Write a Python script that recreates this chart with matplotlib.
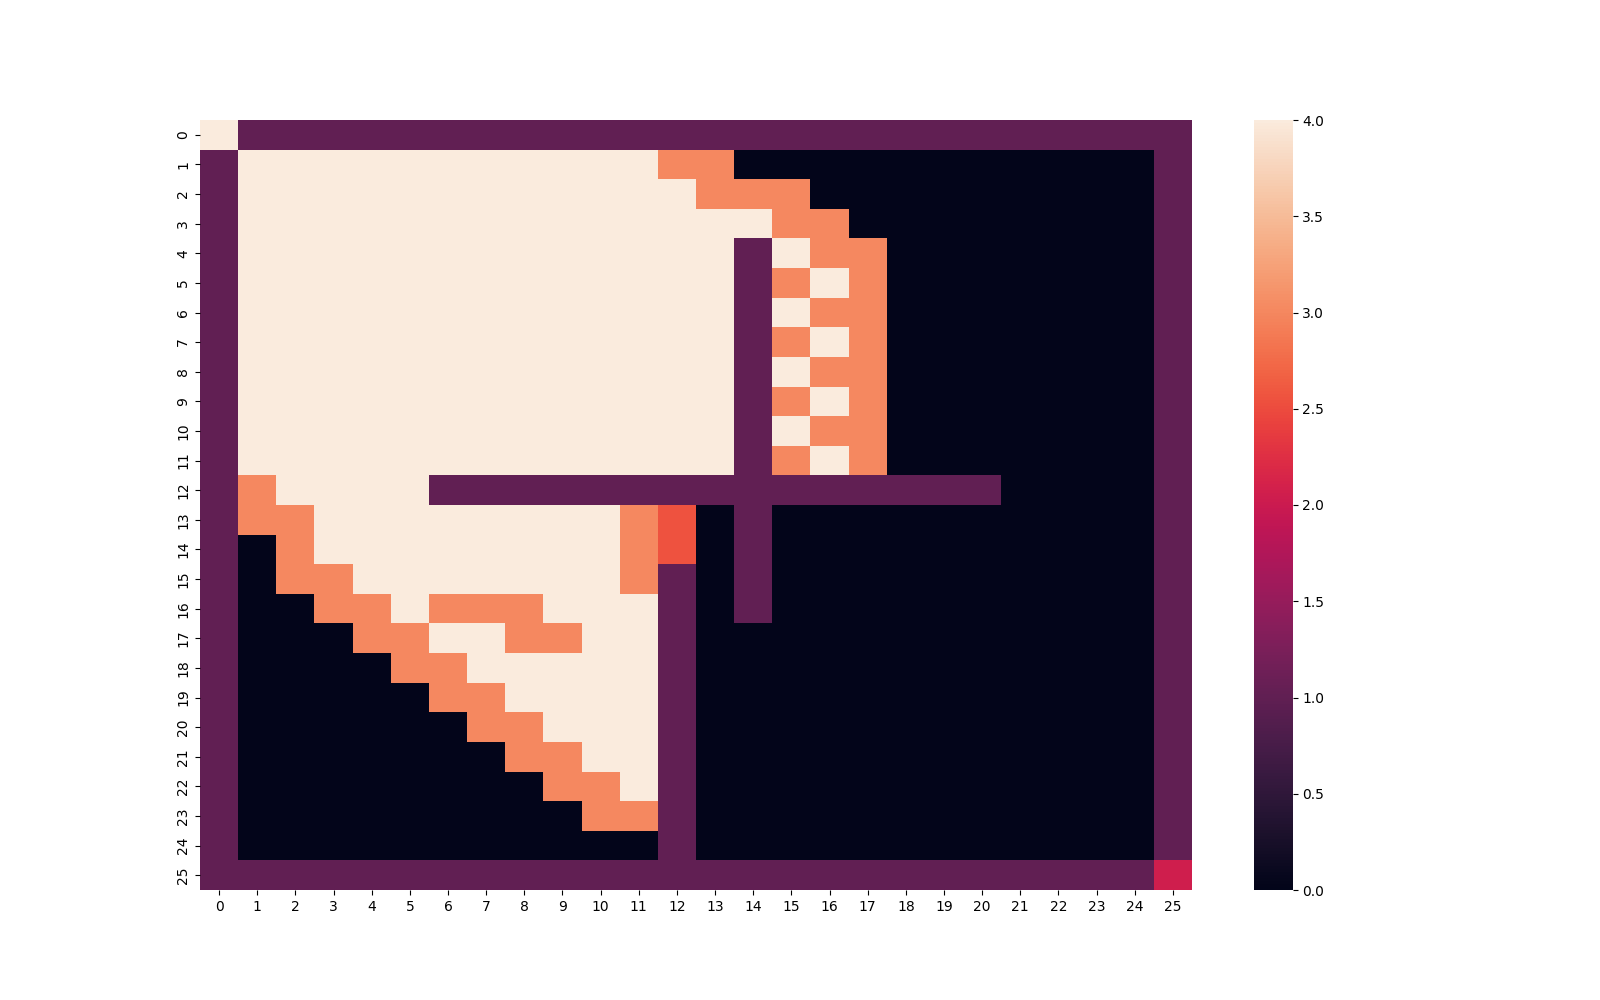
import numpy as np
import matplotlib
matplotlib.use("Agg")
import matplotlib.pyplot as plt
import seaborn as sns

# grid values, one string per row
# '.'=0, '#'=1, 'o'=3, '+'=4, 'r'=red cell, 'c'=crimson corner
grid_rows = [
    "+#########################",
    "#+++++++++++oo...........#",
    "#++++++++++++ooo.........#",
    "#++++++++++++++oo........#",
    "#+++++++++++++#+oo.......#",
    "#+++++++++++++#o+o.......#",
    "#+++++++++++++#+oo.......#",
    "#+++++++++++++#o+o.......#",
    "#+++++++++++++#+oo.......#",
    "#+++++++++++++#o+o.......#",
    "#+++++++++++++#+oo.......#",
    "#+++++++++++++#o+o.......#",
    "#o++++###############....#",
    "#oo++++++++or.#..........#",
    "#.o++++++++or.#..........#",
    "#.oo+++++++o#.#..........#",
    "#..oo+ooo+++#.#..........#",
    "#...oo++oo++#............#",
    "#....oo+++++#............#",
    "#.....oo++++#............#",
    "#......oo+++#............#",
    "#.......oo++#............#",
    "#........oo+#............#",
    "#.........oo#............#",
    "#...........#............#",
    "#########################c",
]
cell_values = {".": 0.0, "#": 1.0, "o": 3.0, "+": 4.0, "r": 2.55, "c": 2.05}

data = np.array([[cell_values[ch] for ch in row] for row in grid_rows])

fig, ax = plt.subplots(figsize=(16, 10), dpi=100)
sns.heatmap(data, ax=ax, vmin=0, vmax=4)

fig.savefig("out.png")
